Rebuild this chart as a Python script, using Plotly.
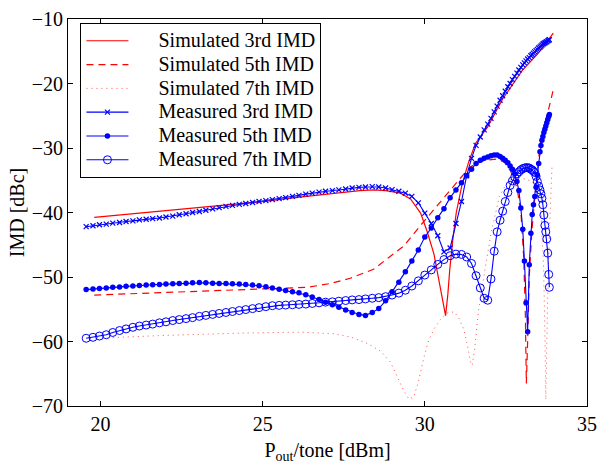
import plotly.graph_objects as go

# ---------------- data ----------------
# Simulated curves
sim3_x = [19.81, 21.0, 22.0, 23.0, 24.0, 25.0, 26.0, 27.0, 27.5, 28.0, 28.42, 28.8, 29.25, 29.56,
          29.87, 30.07, 30.28, 30.43, 30.57, 30.64, 30.71, 30.77, 30.87, 30.97, 31.15, 31.35,
          31.56, 31.93, 32.4, 33.0, 33.5, 33.96]
sim3_y = [-40.75, -40.2, -39.7, -39.25, -38.85, -38.3, -37.7, -37.1, -36.85, -36.6, -36.5, -36.6,
          -37.0, -37.9, -40.1, -42.9, -46.4, -50.3, -53.7, -56.0, -52.7, -48.8, -43.9, -40.0,
          -35.6, -32.2, -29.3, -26.8, -22.4, -18.0, -15.3, -12.2]

sim5_x = [19.81, 22.0, 24.33, 26.38, 27.1, 27.7, 28.42, 28.94, 29.35, 29.87, 30.28, 30.69, 31.1,
          31.41, 31.82, 32.23, 32.45, 32.64, 32.85, 32.97, 33.05, 33.1, 33.13, 33.17, 33.22,
          33.3, 33.42, 33.56, 33.77, 33.95]
sim5_y = [-52.8, -52.4, -52.0, -51.6, -51.0, -50.2, -48.8, -46.85, -45.2, -42.0, -39.5, -37.1,
          -34.65, -32.9, -31.95, -31.7, -32.2, -33.5, -36.3, -40.5, -47.0, -56.0, -66.5, -60.0,
          -50.0, -42.9, -36.0, -29.3, -24.9, -21.2]

sim7_x = [20.38, 22.0, 24.33, 26.18, 27.2, 27.71, 28.23, 28.64, 28.94, 29.15, 29.35, 29.51, 29.66,
          29.82, 29.97, 30.12, 30.28, 30.48, 30.69, 30.9, 31.05, 31.2, 31.31, 31.41, 31.46, 31.53,
          31.58, 31.66, 31.85, 32.05, 32.3, 32.55, 32.8, 33.1, 33.3, 33.45, 33.58, 33.66, 33.7,
          33.73, 33.78, 33.84, 33.92]
sim7_y = [-59.4, -59.05, -58.7, -58.55, -58.8, -59.3, -60.3, -61.5, -63.2, -65.4, -67.6, -68.95,
          -68.6, -65.9, -62.5, -59.8, -58.1, -56.6, -55.6, -55.4, -56.35, -58.1, -60.5, -63.2,
          -63.7, -61.5, -58.6, -55.0, -49.0, -43.0, -37.5, -35.2, -34.5, -34.8, -35.2, -36.0,
          -40.0, -48.0, -58.0, -69.0, -55.0, -43.0, -33.0]

# Measured curves (common output-power grid)
meas_x = [19.56, 19.77, 19.97, 20.18, 20.38, 20.59, 20.79, 21.00, 21.20, 21.41,
          21.61, 21.82, 22.02, 22.23, 22.43, 22.64, 22.84, 23.05, 23.25, 23.46,
          23.66, 23.87, 24.07, 24.28, 24.48, 24.69, 24.89, 25.10, 25.30, 25.51,
          25.71, 25.92, 26.12, 26.33, 26.53, 26.74, 26.94, 27.15, 27.35, 27.56,
          27.76, 27.97, 28.17, 28.38, 28.58, 28.79, 28.99, 29.20, 29.40, 29.60,
          29.80, 30.00, 30.20, 30.40, 30.59, 30.78, 30.96, 31.13, 31.29, 31.44,
          31.58, 31.71, 31.83, 31.94, 32.04, 32.14, 32.23, 32.32, 32.40, 32.48,
          32.56, 32.63, 32.70, 32.77, 32.84, 32.90, 32.96, 33.02, 33.07, 33.12,
          33.17, 33.22, 33.27, 33.31, 33.35, 33.39, 33.43, 33.47, 33.51, 33.55,
          33.58, 33.61, 33.64, 33.67, 33.70, 33.73, 33.76, 33.79, 33.82, 33.84]

meas3_y = [-42.2, -42.05, -41.9, -41.8, -41.65, -41.55, -41.4, -41.3, -41.15, -41.05,
           -40.95, -40.85, -40.7, -40.55, -40.35, -40.2, -40.0, -39.85, -39.65, -39.45,
           -39.25, -39.05, -38.9, -38.75, -38.6, -38.45, -38.3, -38.15, -38.0, -37.85,
           -37.7, -37.5, -37.35, -37.15, -37.0, -36.85, -36.7, -36.6, -36.5, -36.35,
           -36.2, -36.1, -36.05, -36.0, -36.05, -36.2, -36.45, -36.7, -37.0, -37.5,
           -38.5, -40.1, -41.7, -43.6, -46.1, -45.5, -41.7, -38.3, -34.3, -31.6,
           -29.6, -28.3, -27.2, -26.3, -25.4, -24.4, -23.5, -22.6, -21.9, -21.2,
           -20.5, -20.0, -19.4, -18.9, -18.4, -17.9, -17.5, -17.1, -16.8, -16.5,
           -16.2, -16.0, -15.7, -15.5, -15.3, -15.1, -14.9, -14.7, -14.5, -14.35,
           -14.2, -14.05, -13.9, -13.8, -13.7, -13.6, -13.5, -13.4, -13.3, -13.2]

meas5_y = [-51.95, -51.85, -51.8, -51.7, -51.6, -51.55, -51.45, -51.4, -51.3, -51.25,
           -51.2, -51.15, -51.1, -51.05, -51.0, -50.95, -50.9, -50.85, -50.9, -50.95,
           -51.0, -51.0, -51.05, -51.1, -51.15, -51.25, -51.35, -51.5, -51.7, -51.9,
           -52.1, -52.3, -52.45, -52.75, -53.1, -53.5, -53.9, -54.3, -54.7, -55.1,
           -55.5, -55.8, -55.95, -55.5, -54.9, -53.7, -52.3, -50.8, -49.2, -47.5,
           -45.8, -43.8, -42.4, -40.8, -39.4, -37.7, -36.5, -35.4, -34.3, -33.3,
           -32.4, -31.9, -31.6, -31.4, -31.2, -31.1, -31.1, -31.3, -31.6, -31.9,
           -32.3, -32.8, -33.3, -34.0, -35.2, -36.6, -39.3, -42.6, -47.5, -54.0,
           -58.5, -48.1, -43.2, -40.3, -38.8, -37.5, -36.1, -34.2, -32.4, -30.6,
           -29.6, -28.8, -28.2, -27.6, -27.1, -26.6, -26.1, -25.6, -25.1, -24.8]

meas7_y = [-59.5, -59.35, -59.15, -58.95, -58.6, -58.3, -58.05, -57.8, -57.6, -57.45,
           -57.3, -57.1, -56.95, -56.75, -56.6, -56.45, -56.3, -56.1, -55.95, -55.8,
           -55.65, -55.5, -55.35, -55.2, -55.05, -54.9, -54.75, -54.6, -54.45, -54.4,
           -54.35, -54.3, -54.25, -54.2, -54.1, -54.0, -53.9, -53.85, -53.75, -53.65,
           -53.55, -53.5, -53.4, -53.3, -53.2, -53.05, -52.8, -52.5, -52.05, -51.4,
           -50.6, -49.7, -48.9, -48.05, -47.3, -46.7, -46.45, -46.5, -46.9, -47.9,
           -49.8, -51.7, -53.3, -53.6, -50.3, -46.0, -43.0, -41.2, -39.8, -38.3,
           -36.9, -35.8, -35.1, -34.5, -34.0, -33.7, -33.4, -33.2, -33.1, -33.05,
           -33.05, -33.1, -33.3, -33.4, -33.6, -33.8, -34.4, -35.2, -35.9, -36.5,
           -37.1, -37.8, -38.8, -40.4, -42.0, -43.0, -44.1, -46.3, -49.6, -51.6]

names = ["Simulated 3rd IMD", "Simulated 5th IMD", "Simulated 7th IMD",
         "Measured 3rd IMD", "Measured 5th IMD", "Measured 7th IMD"]

x_ticks = [20, 25, 30, 35]
y_ticks = [-70, -60, -50, -40, -30, -20, -10]

# ---------------- figure ----------------
FONT = "Liberation Serif"
RED = "#ff0000"
BLUE = "#0000ff"
FS = 20


def leg(name):
    # larger visible text while the legend row pitch follows the smaller legend font
    return '<span style="font-size:20px">' + "\u00a0" * 5 + name + "</span>"


fig = go.Figure()
fig.add_trace(go.Scatter(x=sim3_x, y=sim3_y, mode="lines", name=leg(names[0]),
                         line=dict(color=RED, width=1.2)))
fig.add_trace(go.Scatter(x=sim5_x, y=sim5_y, mode="lines", name=leg(names[1]),
                         line=dict(color=RED, width=1.2, dash="7px,5px")))
fig.add_trace(go.Scatter(x=sim7_x, y=sim7_y, mode="lines", name=leg(names[2]),
                         line=dict(color="#ff5050", width=1, dash="1px,4px")))
fig.add_trace(go.Scatter(x=meas_x, y=meas3_y, mode="lines+markers", name=leg(names[3]),
                         line=dict(color=BLUE, width=1.1),
                         marker=dict(symbol="x-thin", size=5, line=dict(color=BLUE, width=1.2))))
fig.add_trace(go.Scatter(x=meas_x, y=meas5_y, mode="lines+markers", name=leg(names[4]),
                         line=dict(color=BLUE, width=1.1),
                         marker=dict(symbol="circle", size=5.5, color=BLUE)))
fig.add_trace(go.Scatter(x=meas_x, y=meas7_y, mode="lines+markers", name=leg(names[5]),
                         line=dict(color=BLUE, width=1.1),
                         marker=dict(symbol="circle-open", size=8, color=BLUE,
                                     line=dict(color=BLUE, width=1))))

axis_common = dict(showline=True, linecolor="black", linewidth=1, mirror="ticks",
                   ticks="inside", ticklen=5, tickcolor="black", showgrid=False,
                   zeroline=False, ticklabeloverflow="allow",
                   tickfont=dict(family=FONT, size=FS, color="black"))

fig.update_layout(
    width=616, height=465,
    margin=dict(l=68, r=29, t=8, b=47),
    paper_bgcolor="white", plot_bgcolor="white",
    font=dict(family=FONT, size=FS, color="black"),
    showlegend=True,
    legend=dict(x=0.024, y=0.99, xanchor="left", yanchor="top",
                bordercolor="black", borderwidth=1, bgcolor="white",
                font=dict(family=FONT, size=16, color="black"),
                itemwidth=42, tracegroupgap=0),
    xaxis=dict(range=[19, 35], tickvals=x_ticks, **axis_common,
               title=dict(text="P<sub>out</sub>/tone [dBm]", standoff=8,
                          font=dict(family=FONT, size=FS, color="black"))),
    yaxis=dict(range=[-70, -10], tickvals=y_ticks, **axis_common,
               title=dict(text="IMD [dBc]", standoff=1,
                          font=dict(family=FONT, size=FS, color="black"))),
)

fig.write_html("out.html")
